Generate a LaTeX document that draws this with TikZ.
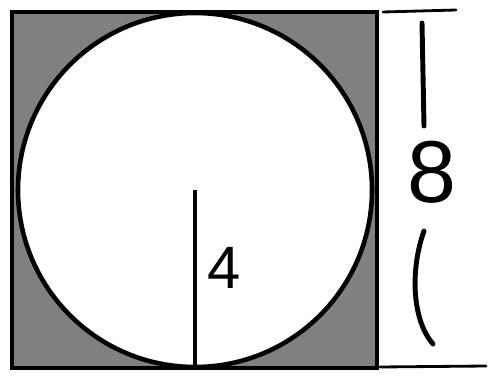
\documentclass[tikz,border=0pt]{standalone}
\usepackage{fontspec}
\setmainfont{Liberation Sans}
\usetikzlibrary{calc,positioning}

\begin{document}
\begin{tikzpicture}[x=0.01cm,y=-0.01cm,
    edge/.style={line width=1.3pt},
    hand/.style={line width=1.4pt,line cap=round},
    lab/.style={inner sep=0pt,font=\fontsize{17}{17}\selectfont}]
  \useasboundingbox (0,0) rectangle (491,379);
  % --- ctverec se sedou vyplni ---
  \draw[edge,fill=black!50] (12,12) rectangle (377,368);
  % --- kruznice vepsana ---
  \coordinate (c) at (195,190);
  \draw[edge,fill=white] (c) circle[radius=177];
  \coordinate (b) at (195,367);
  \draw[edge] (c) -- (b);
  \node[lab,anchor=west] (r) at (207,268) {4};
  % --- vpravo: rucne psana strana ---
  \coordinate (t1) at (383,12);
  \coordinate (t2) at (456,10);
  \coordinate (u1) at (380,367);
  \coordinate (u2) at (486,366);
  \draw[hand,line width=0.8pt] (t1) -- (t2);
  \draw[hand,line width=0.8pt] (u1) -- (u2);
  \node[inner sep=0pt,font=\fontsize{25}{25}\selectfont] (s) at (432,172) {8};
  \coordinate (a1) at (422,23);
  \coordinate (a2) at (424,126);
  \coordinate (d1) at (424,231);
  \coordinate (d2) at (433,344);
  \draw[hand] (a1) -- (a2);
  \draw[hand] (d1) .. controls (410,270) and (412,320) .. (d2);
\end{tikzpicture}
\end{document}
